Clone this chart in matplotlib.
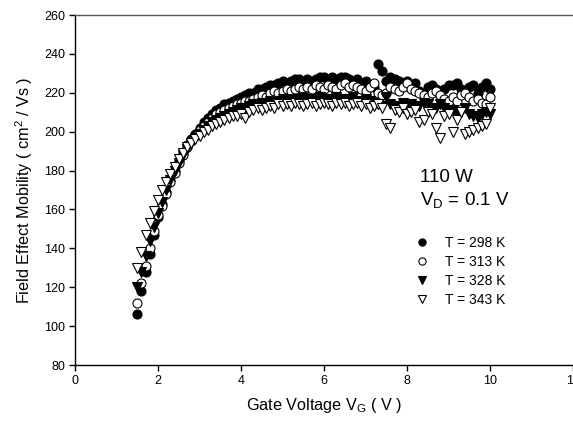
import numpy as np
import matplotlib
matplotlib.use("Agg")
import matplotlib.pyplot as plt

plt.rcParams['font.family'] = ['Liberation Sans', 'DejaVu Sans']
plt.rcParams['mathtext.fontset'] = 'custom'
plt.rcParams['mathtext.rm'] = 'Liberation Sans'
plt.rcParams['mathtext.it'] = 'Liberation Sans:italic'
plt.rcParams['mathtext.bf'] = 'Liberation Sans:bold'

# Gate voltage sweep (V)
vg = np.round(np.arange(1.5, 10.01, 0.1), 1)

mu_298 = [106, 118, 128, 137, 147, 156, 163, 169, 175, 180,
          185, 189, 193, 196, 199, 202, 205, 207, 209, 211,
          212, 214, 215, 216, 217, 218, 219, 220, 220, 222,
          222, 223, 224, 224, 225, 226, 225, 226, 227, 227,
          226, 227, 226, 227, 228, 228, 227, 228, 227, 228,
          228, 227, 226, 227, 225, 226, 224, 223, 235, 231,
          226, 228, 227, 226, 225, 226, 223, 225, 221, 220,
          223, 224, 222, 221, 222, 224, 224, 225, 222, 220,
          223, 224, 220, 223, 225, 222]

mu_313 = [112, 122, 131, 140, 149, 157, 162, 168, 174, 179,
          184, 188, 192, 195, 198, 201, 203, 205, 207, 209,
          210, 211, 212, 213, 214, 215, 216, 216, 217, 218,
          219, 218, 220, 221, 220, 221, 222, 221, 222, 223,
          222, 223, 222, 224, 223, 222, 224, 223, 222, 224,
          225, 223, 224, 223, 222, 221, 223, 225, 220, 219,
          220, 223, 222, 221, 223, 225, 222, 221, 220, 219,
          218, 220, 221, 219, 217, 216, 218, 216, 219, 220,
          218, 216, 217, 215, 214, 218]

mu_328 = [120, 128, 136, 144, 151, 158, 164, 170, 175, 180,
          184, 188, 191, 194, 197, 199, 201, 203, 205, 206,
          207, 208, 209, 210, 211, 212, 212, 213, 214, 214,
          215, 215, 216, 215, 216, 217, 216, 217, 216, 217,
          218, 217, 216, 217, 218, 217, 216, 217, 218, 217,
          216, 217, 218, 216, 215, 217, 216, 215, 214, 213,
          218, 214, 212, 213, 215, 213, 214, 212, 213, 215,
          214, 211, 212, 214, 212, 210, 211, 209, 210, 212,
          209, 208, 207, 209, 210, 209]

mu_343 = [130, 138, 147, 153, 159, 165, 170, 174, 178, 182,
          186, 189, 192, 194, 196, 198, 200, 201, 203, 204,
          205, 206, 207, 208, 208, 209, 207, 210, 211, 212,
          211, 212, 213, 212, 214, 213, 214, 213, 215, 214,
          213, 214, 215, 213, 214, 215, 214, 213, 215, 214,
          215, 213, 214, 215, 213, 214, 212, 213, 214, 212,
          204, 202, 211, 210, 212, 209, 210, 211, 205, 206,
          210, 209, 202, 197, 208, 209, 200, 206, 210, 199,
          200, 201, 202, 203, 204, 212]

labels = ['T = 298 K', 'T = 313 K', 'T = 328 K', 'T = 343 K']
xticks = [0, 2, 4, 6, 8, 10, 12]
yticks = [80, 100, 120, 140, 160, 180, 200, 220, 240, 260]

fig = plt.figure(figsize=(5.73, 4.28), dpi=100)
ax = fig.add_axes([75/573, 1 - 365/428, 1 - 75/573, (365 - 15)/428])

ms = 6.5
h1, = ax.plot(vg, mu_298, 'o', ms=ms, mfc='black', mec='black', mew=0.8, ls='none')
h2, = ax.plot(vg, mu_313, 'o', ms=ms, mfc='white', mec='black', mew=0.8, ls='none')
h3, = ax.plot(vg, mu_328, 'v', ms=ms + 0.5, mfc='black', mec='black', mew=0.8, ls='none')
h4, = ax.plot(vg, mu_343, 'v', ms=ms + 0.5, mfc='white', mec='black', mew=0.8, ls='none')

ax.set_xlim(0, 12)
ax.set_ylim(80, 260)
ax.set_xticks(xticks)
ax.set_yticks(yticks)
ax.tick_params(direction='out', length=4, width=1, labelsize=9, colors='black', pad=3)
ax.spines['right'].set_visible(False)
ax.spines['top'].set_color('#555555')
ax.spines['top'].set_linewidth(1.0)
ax.spines['left'].set_linewidth(1.0)
ax.spines['bottom'].set_linewidth(1.0)

ax.set_xlabel(r'Gate Voltage V$_\mathregular{G}$ ( V )', fontsize=11.7, labelpad=7)
ax.set_ylabel(r'Field Effect Mobility ( cm$^\mathregular{2}$ / Vs )', fontsize=11.7, labelpad=7)

fig.text(420/573, 1 - 182/428, '110 W', fontsize=13.5, ha='left', va='baseline')
fig.text(420/573, 1 - 205/428, r'V$_\mathregular{D}$ = 0.1 V', fontsize=13.5, ha='left', va='baseline')

leg = ax.legend([h1, h2, h3, h4], labels, loc='upper left',
                bbox_to_anchor=(413.5/573, 1 - 236/428), bbox_transform=fig.transFigure,
                frameon=False, fontsize=10, markerscale=0.8, handletextpad=1.1,
                handlelength=1.2, labelspacing=0.35, borderpad=0, borderaxespad=0)

fig.savefig('out.png', dpi=100)
